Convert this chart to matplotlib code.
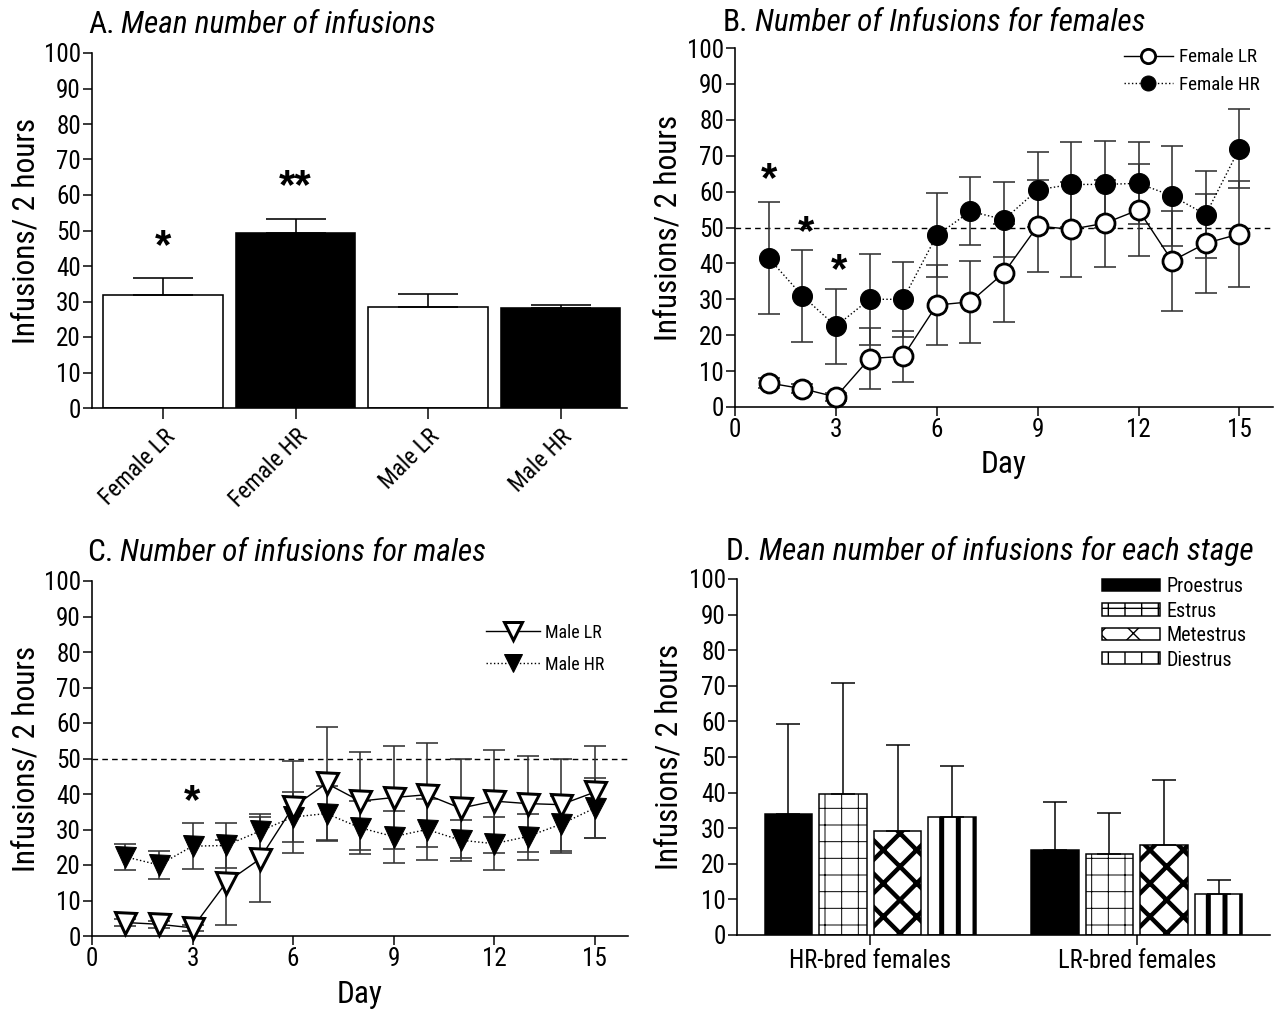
import matplotlib
matplotlib.use('Agg')
import matplotlib.pyplot as plt
from matplotlib import font_manager
from matplotlib.font_manager import FontProperties
from matplotlib.textpath import TextPath
import numpy as np

DPI = 100
W, H = 1284, 1011


def pt(px):
    return px * 72.0 / DPI


# ---------- font choice: prefer a narrow sans (the reference uses Arial Narrow-like text) ----------
entries = font_manager.fontManager.ttflist
names = {f.name for f in entries}
FONT, STRETCH = 'Liberation Sans', 'normal'
for n in ['Liberation Sans Narrow', 'Arial Narrow', 'Roboto Condensed']:
    if n in names:
        FONT = n
        break
else:
    for fam in ['Liberation Sans', 'Roboto', 'Open Sans', 'Noto Sans', 'DejaVu Sans']:
        if any(f.name == fam and 'condensed' in str(f.stretch) and f.style == 'normal' for f in entries):
            FONT, STRETCH = fam, 'condensed'
            break
plt.rcParams['font.family'] = [FONT, 'DejaVu Sans']
plt.rcParams['font.stretch'] = STRETCH
plt.rcParams['axes.linewidth'] = pt(1.6)

# width factor so the texts keep the reference widths (sizes below are for Liberation Sans)
_sample = 'Infusions/ 2 hours 0123456789 Female'
_w_ref = TextPath((0, 0), _sample, size=10, prop=FontProperties(family='Liberation Sans')).get_extents().width
_w_use = TextPath((0, 0), _sample, size=10,
                  prop=FontProperties(family=FONT, stretch=STRETCH)).get_extents().width
SC = _w_ref / _w_use if _w_use > 0 else 1.0


def fs(px):
    return pt(px * SC)


# ---------------- data ----------------
groups_a = ['Female LR', 'Female HR', 'Male LR', 'Male HR']
mean_a = [31.8, 49.4, 28.5, 28.1]
sem_a = [4.8, 3.9, 3.7, 1.0]
fill_a = ['white', 'black', 'white', 'black']
stars_a = ['*', '**', '', '']
star_y_a = [47.3, 64.2, 0, 0]

days = list(range(1, 16))
female_lr = [6.7, 5.1, 2.8, 13.5, 14.1, 28.4, 29.3, 37.4, 50.4, 49.5, 51.2, 54.9, 40.7, 45.6, 48.2]
female_lr_sem = [1.5, 1.2, 1.0, 8.4, 7.2, 11.2, 11.4, 13.7, 12.7, 13.2, 12.1, 12.9, 14.0, 13.8, 14.8]
female_hr = [41.5, 31.0, 22.5, 30.0, 30.0, 47.8, 54.5, 52.2, 60.5, 62.0, 62.0, 62.3, 58.8, 53.6, 72.0]
female_hr_sem = [15.5, 12.8, 10.4, 12.7, 10.5, 11.7, 9.5, 10.4, 10.4, 11.8, 12.2, 11.4, 13.9, 12.2, 11.0]
stars_b_x = [1.0, 2.1, 3.1]
stars_b_y = [65.0, 50.4, 39.6]

male_lr = [3.8, 3.3, 2.3, 15.0, 21.6, 36.3, 43.0, 38.0, 39.0, 39.8, 36.0, 38.0, 37.3, 37.0, 40.5]
male_lr_sem = [1.0, 1.0, 0.8, 12.0, 12.0, 12.9, 15.9, 13.7, 14.6, 14.6, 13.9, 14.5, 13.5, 13.0, 13.0]
male_hr = [22.3, 20.0, 25.3, 25.5, 29.5, 33.5, 34.5, 30.5, 28.0, 30.0, 27.0, 26.0, 28.0, 31.5, 36.0]
male_hr_sem = [3.6, 3.9, 6.4, 6.3, 5.0, 7.0, 7.8, 7.4, 7.3, 8.6, 5.8, 7.5, 6.5, 8.0, 8.5]
stars_c_x = [3.0]
stars_c_y = [39.7]

reference_level = 50

stages = ['Proestrus', 'Estrus', 'Metestrus', 'Diestrus']
bred_groups = ['HR-bred females', 'LR-bred females']
hr_bred_mean = [33.9, 39.6, 29.3, 33.1]
hr_bred_err = [25.3, 31.3, 24.1, 14.5]
lr_bred_mean = [23.9, 22.8, 25.3, 11.5]
lr_bred_err = [13.6, 11.4, 18.3, 4.0]

# ---------------- figure ----------------
fig = plt.figure(figsize=(W / DPI, H / DPI), dpi=DPI)
axA = fig.add_axes([92 / W, 1 - 408 / H, (627 - 92) / W, (408 - 53) / H])
axB = fig.add_axes([735 / W, 1 - 407 / H, (1273 - 735) / W, (407 - 48) / H])
axC = fig.add_axes([92 / W, 1 - 936 / H, (628 - 92) / W, (936 - 581) / H])
axD = fig.add_axes([737 / W, 1 - 935 / H, (1270 - 737) / W, (935 - 579) / H])

TICK_FS = fs(22.5)
TITLE_FS = fs(28)
YLAB_FS = fs(28)
DAY_FS = fs(28)


def style(ax, ylab_x=-0.097):
    for s in ['top', 'right']:
        ax.spines[s].set_visible(False)
    ax.set_ylim(0, 100)
    ax.set_yticks(range(0, 101, 10))
    ax.tick_params(direction='out', length=pt(9), width=pt(1.5), pad=pt(2),
                   labelsize=TICK_FS, colors='black')
    ax.set_ylabel('Infusions/ 2 hours', fontsize=YLAB_FS)
    ax.yaxis.set_label_coords(ylab_x, 0.5)


def panel_title(ax, letter, text, dx, dy):
    t = ax.annotate(letter, xy=(0, 1), xycoords='axes fraction', xytext=(dx, dy),
                    textcoords='offset pixels', ha='left', va='baseline', fontsize=TITLE_FS)
    ax.annotate(text, xy=(1, 0), xycoords=t, xytext=(7, 0), textcoords='offset pixels',
                ha='left', va='bottom', fontsize=TITLE_FS, style='italic')


def star(ax, x, y, s, size=42):
    ax.annotate(s, xy=(x, y), xycoords='data', xytext=(0, -0.42 * size), textcoords='offset pixels',
                ha='center', va='baseline', fontsize=pt(size), fontweight='bold',
                family=['Liberation Sans', 'DejaVu Sans'], stretch='normal', annotation_clip=False)


# ---------- Panel A ----------
style(axA)
xa = np.arange(len(groups_a))
axA.bar(xa, mean_a, width=0.9, color=fill_a, edgecolor='black', linewidth=pt(1.6), zorder=2)
axA.errorbar(xa, mean_a, yerr=[np.zeros(len(xa)), sem_a], fmt='none', ecolor='black',
             elinewidth=pt(1.6), capsize=pt(30), capthick=pt(1.6), zorder=3)
axA.set_xlim(-0.535, 3.5)
axA.set_xticks(xa)
axA.set_xticklabels(groups_a, rotation=45, ha='right', va='top', rotation_mode='anchor',
                    fontsize=fs(21))
axA.tick_params(axis='x', length=pt(11), pad=pt(6))
for i, s in enumerate(stars_a):
    if s:
        star(axA, xa[i], star_y_a[i], s)
panel_title(axA, 'A.', 'Mean number of infusions', -4, 20)

# ---------- Panel B ----------
EB_COLOR = '#333333'
style(axB)
axB.set_xlim(0, 16)
axB.set_xticks(range(0, 16, 3))
axB.axhline(reference_level, color='black', linestyle=(0, (4, 3)), linewidth=pt(1.4), zorder=1)
axB.errorbar(days, female_hr, yerr=female_hr_sem, fmt='none', ecolor=EB_COLOR,
             elinewidth=pt(1.6), capsize=pt(11), capthick=pt(1.6), zorder=2)
axB.errorbar(days, female_lr, yerr=female_lr_sem, fmt='none', ecolor=EB_COLOR,
             elinewidth=pt(1.6), capsize=pt(11), capthick=pt(1.6), zorder=2)
hB_hr, = axB.plot(days, female_hr, linestyle=':', color='black', linewidth=pt(1.4),
                  marker='o', markersize=pt(20), markerfacecolor='black', markeredgecolor='black',
                  markeredgewidth=pt(1), zorder=4, clip_on=False, label='Female HR')
hB_lr, = axB.plot(days, female_lr, linestyle='-', color='black', linewidth=pt(1.4),
                  marker='o', markersize=pt(19), markerfacecolor='white', markeredgecolor='black',
                  markeredgewidth=pt(2.8), zorder=5, clip_on=False, label='Female LR')
for x, y in zip(stars_b_x, stars_b_y):
    star(axB, x, y, '*')
axB.set_xlabel('Day', fontsize=DAY_FS)
axB.xaxis.set_label_coords(0.5, -0.12)
axB.legend(handles=[hB_lr, hB_hr], loc='upper right', bbox_to_anchor=(1.007, 1.047), frameon=False,
           fontsize=fs(17), handlelength=2.6, markerscale=0.75, labelspacing=0.52,
           handletextpad=0.3)
panel_title(axB, 'B.', 'Number of Infusions for females', -12, 17)

# ---------- Panel C ----------
style(axC)
axC.set_xlim(0, 16)
axC.set_xticks(range(0, 16, 3))
axC.axhline(reference_level, color='black', linestyle=(0, (4, 3)), linewidth=pt(1.4), zorder=1)
axC.errorbar(days, male_hr, yerr=male_hr_sem, fmt='none', ecolor=EB_COLOR,
             elinewidth=pt(1.6), capsize=pt(11), capthick=pt(1.6), zorder=2)
axC.errorbar(days, male_lr, yerr=male_lr_sem, fmt='none', ecolor=EB_COLOR,
             elinewidth=pt(1.6), capsize=pt(11), capthick=pt(1.6), zorder=2)
hC_hr, = axC.plot(days, male_hr, linestyle=':', color='black', linewidth=pt(1.4),
                  marker='v', markersize=pt(21), markerfacecolor='black', markeredgecolor='black',
                  markeredgewidth=pt(1), zorder=4, clip_on=False, label='Male HR')
hC_lr, = axC.plot(days, male_lr, linestyle='-', color='black', linewidth=pt(1.4),
                  marker='v', markersize=pt(21), markerfacecolor='white', markeredgecolor='black',
                  markeredgewidth=pt(3), zorder=5, clip_on=False, label='Male LR')
for x, y in zip(stars_c_x, stars_c_y):
    star(axC, x, y, '*')
axC.set_xlabel('Day', fontsize=DAY_FS)
axC.xaxis.set_label_coords(0.5, -0.125)
axC.legend(handles=[hC_lr, hC_hr], loc='upper right', bbox_to_anchor=(0.986, 0.925), frameon=False,
           fontsize=fs(16), handlelength=3.0, markerscale=0.85, labelspacing=0.78,
           handletextpad=0.3)
panel_title(axC, 'C.', 'Number of infusions for males', -5, 20)

# ---------- Panel D ----------
style(axD, ylab_x=-0.101)
xd = np.arange(len(bred_groups))
bw = 0.178
step = 0.205
hatches = ['', '+', 'x', '|']
hatch_lw = [1.0, 0.7, 3.2, 3.6]
fills = ['black', 'white', 'white', 'white']
means_by_stage = list(zip(hr_bred_mean, lr_bred_mean))
errs_by_stage = list(zip(hr_bred_err, lr_bred_err))
handles_d = []
for k, stg in enumerate(stages):
    pos = xd + (k - 1.5) * step
    with plt.rc_context({'hatch.linewidth': hatch_lw[k]}):
        bars = axD.bar(pos, means_by_stage[k], width=bw, color=fills[k], edgecolor='black',
                       hatch=hatches[k], linewidth=pt(1.5), zorder=2, label=stg)
    for b in bars:
        if hasattr(b, 'set_hatch_linewidth'):
            b.set_hatch_linewidth(hatch_lw[k])
    handles_d.append(bars)
    axD.errorbar(pos, means_by_stage[k], yerr=[np.zeros(len(xd)), errs_by_stage[k]], fmt='none',
                 ecolor='black', elinewidth=pt(1.5), capsize=pt(12), capthick=pt(1.5), zorder=3)
axD.set_xlim(-0.5, 1.5)
axD.set_xticks(xd)
axD.set_xticklabels(bred_groups, fontsize=fs(22))
axD.tick_params(axis='x', length=pt(10), pad=pt(4))
axD.legend(handles=handles_d, loc='upper right', bbox_to_anchor=(0.99, 1.056), frameon=False,
           fontsize=fs(18), handlelength=2.9, handleheight=0.55, labelspacing=0.27,
           handletextpad=0.3)
panel_title(axD, 'D.', 'Mean number of infusions for each stage', -11, 19)

fig.savefig('out.png', dpi=DPI, facecolor='white')
